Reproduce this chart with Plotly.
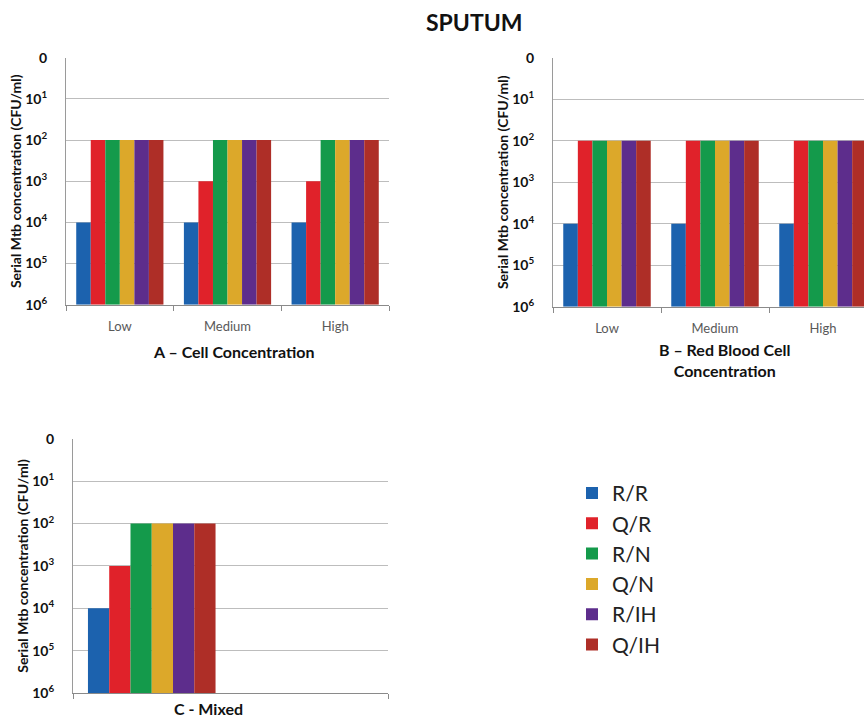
import plotly.graph_objects as go

categories_ab = ["Low", "Medium", "High"]
categories_c = ["Mixed"]
series = ["R/R", "Q/R", "R/N", "Q/N", "R/IH", "Q/IH"]
colors = ["#1C62AE", "#E0222A", "#149A4B", "#DCA82A", "#5D2D8C", "#AE2E27"]

# values are the exponent n of 10^n CFU/ml (0 = top of axis)
panel_a = {
    "R/R": [4, 4, 4],
    "Q/R": [2, 3, 3],
    "R/N": [2, 2, 2],
    "Q/N": [2, 2, 2],
    "R/IH": [2, 2, 2],
    "Q/IH": [2, 2, 2],
}
panel_b = {
    "R/R": [4, 4, 4],
    "Q/R": [2, 2, 2],
    "R/N": [2, 2, 2],
    "Q/N": [2, 2, 2],
    "R/IH": [2, 2, 2],
    "Q/IH": [2, 2, 2],
}
panel_c = {
    "R/R": [4],
    "Q/R": [3],
    "R/N": [2],
    "Q/N": [2],
    "R/IH": [2],
    "Q/IH": [2],
}
exponents = [0, 1, 2, 3, 4, 5, 6]
tick_labels = ["0"] + ["10<sup>%d</sup>" % e for e in exponents[1:]]
MAXE = 6

W, H = 864, 725
def px(x): return x / W
def py(y):
    yy = (y - 9.4) / 0.976
    return min(1.0, max(0.0, 1 - yy / H))

fig = go.Figure()

for name, col in zip(series, colors):
    fig.add_trace(go.Bar(x=categories_ab, y=[MAXE - v for v in panel_a[name]], name=name,
                         marker=dict(color=col, line=dict(width=0)), xaxis="x", yaxis="y",
                         legendgroup=name, showlegend=True))
for name, col in zip(series, colors):
    fig.add_trace(go.Bar(x=categories_ab, y=[MAXE - v for v in panel_b[name]], name=name,
                         marker=dict(color=col, line=dict(width=0)), xaxis="x2", yaxis="y2",
                         legendgroup=name, showlegend=False))
for name, col in zip(series, colors):
    fig.add_trace(go.Bar(x=[0], y=[MAXE - v for v in panel_c[name]], name=name,
                         marker=dict(color=col, line=dict(width=0)), xaxis="x3", yaxis="y3",
                         legendgroup=name, showlegend=False))

font_main = "Lato, 'Open Sans', sans-serif"
ytitle = "<b>Serial Mtb concentration (CFU/ml)</b>"

def yaxis(domain, anchor):
    return dict(domain=domain, anchor=anchor, range=[0, MAXE],
                tickvals=[MAXE - e for e in exponents], ticktext=["<b>%s</b>" % t for t in tick_labels],
                tickfont=dict(family=font_main, size=14, color="#111111"),
                showgrid=True, gridcolor="#BDBDBD", gridwidth=1, zeroline=False,
                showline=True, linecolor="#9A9A9A", linewidth=1, ticks="",
                ticklabelstandoff=15,
                title=dict(text=ytitle, font=dict(family=font_main, size=14, color="#111111"), standoff=0),
                fixedrange=True)

def xaxis_cat(domain, anchor, rng):
    return dict(domain=domain, anchor=anchor, type="category", range=rng,
                ticks="outside", tickson="boundaries", ticklen=5, tickcolor="#8A8A8A",
                showline=True, linecolor="#8A8A8A", linewidth=1, showgrid=False,
                tickfont=dict(family=font_main, size=13, color="#595959"),
                ticklabelstandoff=10)

fig.update_layout(
    width=W, height=H,
    margin=dict(l=0, r=0, t=0, b=0),
    paper_bgcolor="white", plot_bgcolor="white",
    barmode="group", bargap=0.19, bargroupgap=0,
    xaxis=xaxis_cat([px(66), px(389)], "y", [-0.5, 2.5]),
    yaxis=yaxis([py(305), py(58)], "x"),
    xaxis2=xaxis_cat([px(553), 1.0], "y2", [-0.5, 2.5 - 13 / 108]),
    yaxis2=yaxis([py(307), py(58)], "x2"),
    xaxis3=dict(domain=[px(73), px(388)], anchor="y3", range=[-0.5, 1.5],
                tickvals=[-0.5, 1.5], ticks="outside", ticklen=5, tickcolor="#8A8A8A",
                showticklabels=False, showline=True, linecolor="#8A8A8A", linewidth=1,
                showgrid=False, zeroline=False),
    yaxis3=yaxis([py(693), py(439)], "x3"),
    legend=dict(x=px(572), y=py(473), xanchor="left", yanchor="top",
                font=dict(family=font_main, size=21, color="#222222"),
                tracegroupgap=0, itemwidth=30, bgcolor="rgba(0,0,0,0)"),
    showlegend=True,
    annotations=[
        dict(text="<b>SPUTUM</b>", x=px(474), y=py(22), xref="paper", yref="paper",
             xanchor="center", yanchor="middle",
             showarrow=False, font=dict(family=font_main, size=23, color="#111111")),
        dict(text="<b>A – Cell Concentration</b>", x=px(233), y=py(352), xref="paper", yref="paper",
             xanchor="center", yanchor="middle",
             showarrow=False, font=dict(family=font_main, size=16, color="#111111")),
        dict(text="<b>B – Red Blood Cell<br>Concentration</b>", x=px(725), y=py(360), xref="paper",
             yref="paper", xanchor="center", yanchor="middle",
             showarrow=False, font=dict(family=font_main, size=16, color="#111111")),
        dict(text="<b>C - Mixed</b>", x=px(208), y=0, xref="paper", yref="paper",
             xanchor="center", yanchor="bottom", yshift=-3,
             showarrow=False, font=dict(family=font_main, size=16, color="#111111")),
    ],
)

post = ("document.documentElement.style.margin='0';document.body.style.margin='0';"
        "document.documentElement.style.overflow='hidden';document.body.style.overflow='hidden';"
        "var gd=document.getElementById('{plot_id}');gd.style.position='fixed';"
        "gd.style.top='0px';gd.style.left='0px';")

fig.write_html("out.html", config={"displayModeBar": False}, post_script=post)
